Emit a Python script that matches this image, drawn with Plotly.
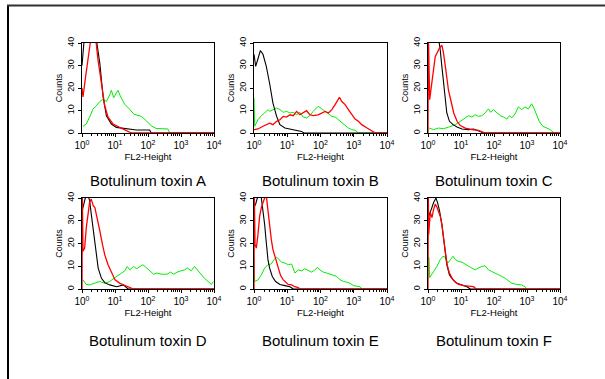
import plotly.graph_objects as go

# ---- data (x in log10 units of FL2-Height, y = counts) ----
titles = ["Botulinum toxin A", "Botulinum toxin B", "Botulinum toxin C",
          "Botulinum toxin D", "Botulinum toxin E", "Botulinum toxin F"]
x_tick_vals = [1, 10, 100, 1000, 10000]
x_tick_text = ["10<sup>0</sup>", "10<sup>1</sup>", "10<sup>2</sup>", "10<sup>3</sup>", "10<sup>4</sup>"]
y_tick_vals = [0, 10, 20, 30, 40]

# Panel A
a_black_x = [0, 0.03, 0.08, 0.2, 0.43, 0.54, 0.64, 0.74, 0.89, 1.04, 1.34, 1.65, 2.05, 2.1, 4]
a_black_y = [30, 38, 44, 45, 42, 31, 16, 7.6, 4, 2.5, 1.8, 1.3, 1.3, 0, 0]
a_red_x = [0, 0.03, 0.1, 0.18, 0.25, 0.35, 0.43, 0.48, 0.59, 0.69, 0.79, 0.94, 1.14, 1.34, 1.5, 4]
a_red_y = [20, 16, 24, 34, 40, 42, 40, 33, 21, 12, 7, 4, 2.5, 1, 0, 0]
a_green_x = [0.03, 0.13, 0.23, 0.33, 0.43, 0.54, 0.64, 0.74, 0.84, 0.89, 0.96, 1.02, 1.09, 1.16, 1.29,
             1.44, 1.57, 1.67, 1.8, 1.95, 2.1, 2.25, 2.45, 2.6, 2.66, 4]
a_green_y = [3, 4, 7, 10.6, 12, 14, 15, 14, 17, 19, 15.7, 17, 19, 16.5, 12.8,
             10.6, 8.4, 7.9, 7.4, 5.4, 3.2, 2, 1.8, 1.8, 0, 0]

# Panel B
b_black_x = [0, 0.05, 0.12, 0.19, 0.27, 0.37, 0.47, 0.57, 0.68, 0.78, 0.93, 1.13, 1.28, 1.43, 1.5, 4]
b_black_y = [35, 29.6, 33, 36.6, 35, 29.6, 22, 13.3, 7.4, 3.7, 2.2, 1.5, 1.3, 0.7, 0, 0]
b_red_x = [0, 0.12, 0.27, 0.37, 0.47, 0.57, 0.68, 0.78, 0.88, 0.98, 1.08, 1.18, 1.28, 1.38, 1.48,
           1.58, 1.68, 1.78, 1.93, 2.04, 2.14, 2.24, 2.34, 2.44, 2.51, 2.57, 2.64, 2.74, 2.84,
           2.94, 3.04, 3.14, 3.24, 3.4, 3.55, 3.65, 4]
b_red_y = [1.5, 1.8, 3, 3.7, 4.4, 3.7, 5.2, 5.9, 7.4, 7.1, 8.1, 7.7, 9.6, 8.1, 8.9,
           9.9, 8.1, 7.7, 8.1, 8.9, 9.6, 8.9, 10.4, 12.6, 14.8, 15.9, 14, 12.6, 10.4,
           8.1, 6.2, 5.2, 3.7, 2.2, 1, 0, 0]
b_green_x = [0, 0.02, 0.12, 0.22, 0.32, 0.42, 0.47, 0.57, 0.68, 0.78, 0.88, 0.98, 1.08, 1.18, 1.28,
             1.38, 1.48, 1.58, 1.68, 1.78, 1.88, 1.93, 2.04, 2.14, 2.24, 2.34, 2.44, 2.54, 2.64,
             2.74, 2.84, 2.94, 3.04, 3.14, 4]
b_green_y = [15.6, 3, 5.9, 7.7, 8.9, 10.4, 9.6, 10.4, 11.1, 10.4, 9.2, 9.6, 8.9, 9.2, 8.1,
             9.2, 7.1, 6.7, 7.7, 9.6, 11.1, 11.9, 10.7, 9.6, 8.1, 7.4, 7.1, 5.9, 4.4,
             3.3, 2.2, 1.5, 1.2, 0, 0]

# Panel C
c_black_x = [0, 0.1, 0.32, 0.37, 0.42, 0.47, 0.52, 0.57, 0.65, 0.76, 0.88, 1.03, 1.23, 1.38, 1.58, 1.68, 4]
c_black_y = [44, 45, 42, 37, 29.6, 22, 14.8, 8.9, 5.2, 3.7, 2.7, 1.8, 1.5, 1.8, 0.7, 0, 0]
c_red_x = [0, 0.01, 0.05, 0.09, 0.15, 0.22, 0.29, 0.35, 0.42, 0.47, 0.54, 0.62, 0.7, 0.78, 0.88,
           0.98, 1.13, 1.33, 1.53, 1.73, 4]
c_red_y = [0, 45, 14.8, 19, 26.7, 34, 36, 37.8, 39, 35.5, 28, 19, 14, 8.9, 5.2,
           3.3, 2.2, 1.5, 1.2, 0, 0]
c_green_x = [0.03, 0.17, 0.32, 0.47, 0.62, 0.73, 0.83, 0.93, 1.03, 1.13, 1.23, 1.33, 1.43, 1.53, 1.63,
             1.73, 1.83, 1.9, 1.98, 2.09, 2.19, 2.29, 2.39, 2.47, 2.54, 2.64, 2.74, 2.84, 2.94,
             3.04, 3.14, 3.21, 3.29, 3.37, 3.48, 3.6, 3.7, 3.8, 3.85]
c_green_y = [2.2, 1.5, 2.2, 1.9, 2.6, 3, 3.7, 4.7, 5.9, 6.7, 7.7, 7.1, 8.1, 7.4, 7.7,
             8.9, 10.7, 9.2, 10.4, 8.9, 7.7, 7.1, 6.2, 7.7, 6.7, 8.5, 11.6, 10.4, 11.6,
             10.7, 13, 11.1, 8.1, 5.2, 3, 2.2, 1.5, 0.3, 0]

# Panel D
d_black_x = [0, 0.05, 0.1, 0.18, 0.23, 0.28, 0.34, 0.41, 0.49, 0.59, 0.69, 0.84, 1.05, 1.25, 1.4, 4]
d_black_y = [34, 37, 40, 41, 39, 33, 25.5, 16.6, 9.2, 4.7, 2.8, 1.8, 1, 1.8, 0, 0]
d_red_x = [0, 0.01, 0.03, 0.08, 0.13, 0.18, 0.23, 0.28, 0.34, 0.39, 0.46, 0.54, 0.62, 0.69, 0.79,
           0.9, 1.0, 1.15, 1.3, 1.46, 1.56, 4]
d_red_y = [0, 42, 16.6, 18, 27, 34, 38, 39.5, 36.6, 35.8, 31.4, 25.5, 19.6, 15, 10.7,
           7, 4, 2.5, 1.5, 0.6, 0, 0]
d_green_x = [0.03, 0.13, 0.23, 0.39, 0.54, 0.69, 0.84, 1.0, 1.1, 1.2, 1.3, 1.37, 1.45, 1.56, 1.66,
             1.76, 1.84, 1.94, 2.05, 2.17, 2.27, 2.42, 2.58, 2.68, 2.78, 2.88, 3.0, 3.1, 3.2,
             3.31, 3.41, 3.51, 3.61, 3.71, 3.82, 3.92, 3.98]
d_green_y = [4, 2, 1.8, 2.5, 3.3, 2.5, 3.3, 5, 6.2, 7, 8, 9.9, 8.4, 9.9, 8.9,
             9.9, 10.7, 9.5, 8, 6.5, 7, 6.5, 6.5, 7.4, 6.5, 7.4, 8, 8.4, 9.2,
             8, 9.9, 8, 6.2, 4.7, 3.3, 2, 3.3]

# Panel E
e_black_x = [0, 0.05, 0.1, 0.17, 0.22, 0.27, 0.32, 0.37, 0.42, 0.47, 0.55, 0.65, 0.78, 0.93, 1.08, 1.18, 4]
e_black_y = [35.8, 37.3, 40, 41, 40, 35, 28.4, 20.3, 12.9, 9.2, 5.5, 3.3, 2, 1.5, 1, 0, 0]
e_red_x = [0, 0.01, 0.03, 0.07, 0.12, 0.17, 0.22, 0.27, 0.32, 0.37, 0.42, 0.47, 0.52, 0.57, 0.65,
           0.72, 0.8, 0.88, 0.95, 1.03, 1.13, 1.23, 1.33, 1.38, 4]
e_red_y = [0, 42, 19.6, 18, 24, 32, 35.8, 38, 40, 41, 34, 27.7, 21.8, 17.3, 12.9,
           9.2, 5.9, 4, 3, 2, 1.8, 1, 0.6, 0, 0]
e_green_x = [0, 0.02, 0.12, 0.22, 0.32, 0.42, 0.52, 0.6, 0.68, 0.76, 0.83, 0.93, 1.03, 1.13, 1.23,
             1.33, 1.43, 1.53, 1.63, 1.73, 1.83, 1.91, 1.98, 2.09, 2.19, 2.29, 2.39, 2.49, 2.59,
             2.69, 2.79, 2.89, 2.99, 3.09, 3.19, 3.24, 4]
e_green_y = [13.6, 3.3, 4, 6.2, 9.2, 10.7, 11, 12.9, 14, 12.9, 11.8, 11.4, 10.7, 11, 7,
             8.4, 8, 8.9, 8, 7.4, 8.4, 9.5, 8.4, 7.4, 7, 6.5, 6.2, 5.5, 4,
             3.3, 3, 2.5, 1.5, 1.3, 1, 0, 0]

# Panel F
f_black_x = [0, 0.05, 0.1, 0.17, 0.24, 0.29, 0.35, 0.42, 0.47, 0.52, 0.57, 0.65, 0.76, 0.88, 1.03, 1.18, 1.28, 4]
f_black_y = [31.4, 33, 35, 38, 40, 38, 34.4, 28.4, 22.5, 16.6, 10.7, 6.2, 4, 2.5, 1.8, 1, 0, 0]
f_red_x = [0, 0.01, 0.02, 0.07, 0.12, 0.17, 0.22, 0.27, 0.32, 0.37, 0.42, 0.47, 0.52, 0.57, 0.64,
           0.73, 0.83, 0.93, 1.08, 1.23, 1.38, 1.46, 4]
f_red_y = [0, 42, 24, 33.6, 31.4, 35, 37.3, 36, 33.6, 32, 28.4, 22.5, 16.6, 11.4, 7.4,
           4.7, 3, 2, 1.5, 1.2, 1, 0, 0]
f_green_x = [0.03, 0.05, 0.17, 0.27, 0.37, 0.45, 0.52, 0.6, 0.68, 0.76, 0.83, 0.93, 1.03, 1.13, 1.23,
             1.33, 1.43, 1.53, 1.63, 1.73, 1.83, 1.93, 2.04, 2.14, 2.24, 2.34, 2.44, 2.54, 2.69,
             2.84, 2.94, 2.99]
f_green_y = [14, 5, 7.7, 9.9, 12.9, 14.4, 14, 11.4, 12.9, 14.4, 12.9, 12.1, 11.8, 10.7, 10,
             9.2, 8.4, 9.2, 9.9, 10.2, 8.4, 7.7, 7, 6.2, 5.5, 4.7, 3.6, 2.5, 2,
             1.8, 1, 0]

panels = [
    (a_green_x, a_green_y, a_black_x, a_black_y, a_red_x, a_red_y),
    (b_green_x, b_green_y, b_black_x, b_black_y, b_red_x, b_red_y),
    (c_green_x, c_green_y, c_black_x, c_black_y, c_red_x, c_red_y),
    (d_green_x, d_green_y, d_black_x, d_black_y, d_red_x, d_red_y),
    (e_green_x, e_green_y, e_black_x, e_black_y, e_red_x, e_red_y),
    (f_green_x, f_green_y, f_black_x, f_black_y, f_red_x, f_red_y),
]

W, H = 605, 379
col_px = [(82, 214), (254, 387), (428, 560)]
row_px = [(43, 133), (198, 289)]
title_y_px = [180, 340]

minor_vals = [m * 10 ** k for k in range(4) for m in range(2, 10)]

fig = go.Figure()
FONT = "Liberation Sans, Arial, sans-serif"

for i, (gx, gy, kx, ky, rx, ry) in enumerate(panels):
    r, c = divmod(i, 3)
    n = i + 1
    xa = "x" if n == 1 else f"x{n}"
    ya = "y" if n == 1 else f"y{n}"
    for xs, ys, col, w in ((gx, gy, "#00ee00", 1.0), (kx, ky, "#000000", 1.1), (rx, ry, "#ff0000", 1.3)):
        fig.add_trace(go.Scatter(x=[10 ** v for v in xs], y=ys, mode="lines",
                                 line=dict(color=col, width=w), xaxis=xa, yaxis=ya,
                                 showlegend=False, hoverinfo="skip"))
    x0, x1 = col_px[c]
    t0, t1 = row_px[r]
    xkey = "xaxis" if n == 1 else f"xaxis{n}"
    ykey = "yaxis" if n == 1 else f"yaxis{n}"
    fig.layout[xkey] = dict(
        domain=[x0 / W, x1 / W], anchor=ya, type="log", range=[0, 4], automargin=False,
        tickvals=x_tick_vals, ticktext=x_tick_text, ticks="outside", ticklen=3,
        tickcolor="black", showline=True, linecolor="black", linewidth=1, mirror=True,
        showgrid=False, zeroline=False, tickfont=dict(size=10, color="black", family=FONT),
        minor=dict(tickvals=minor_vals, ticks="outside", ticklen=2, tickcolor="black", showgrid=False),
        title=dict(text="FL2-Height", font=dict(size=9.5, color="black", family=FONT), standoff=0),
    )
    fig.layout[ykey] = dict(
        domain=[1 - t1 / H, 1 - t0 / H], anchor=xa, range=[0, 40], automargin=False,
        tickvals=y_tick_vals, ticks="outside", ticklen=3, tickcolor="black",
        tickangle=-90, showline=True, linecolor="black", linewidth=1, mirror=True,
        showgrid=False, zeroline=False, tickfont=dict(size=9, color="black", family=FONT),
        title=dict(text="Counts", font=dict(size=9, color="black", family=FONT), standoff=2),
    )
    fig.add_annotation(text=titles[i], xref="paper", yref="paper",
                       x=(x0 + x1) / 2 / W, y=1 - title_y_px[r] / H,
                       showarrow=False, xanchor="center", yanchor="middle",
                       font=dict(size=15, color="black", family=FONT))

# outer frame (top and left borders)
fig.add_shape(type="line", xref="paper", yref="paper", x0=8 / W, x1=8 / W, y0=0, y1=1 - 5 / H,
              line=dict(color="black", width=2))
fig.add_shape(type="line", xref="paper", yref="paper", x0=7 / W, x1=1, y0=1 - 5.5 / H, y1=1 - 5.5 / H,
              line=dict(color="#303030", width=2))

fig.update_layout(width=W, height=H, margin=dict(l=0, r=0, t=0, b=0, autoexpand=False),
                  paper_bgcolor="white", plot_bgcolor="white")
fig.write_html("out.html", config={"displayModeBar": False},
               post_script="document.body.style.margin='0';document.body.style.overflow='hidden';")
